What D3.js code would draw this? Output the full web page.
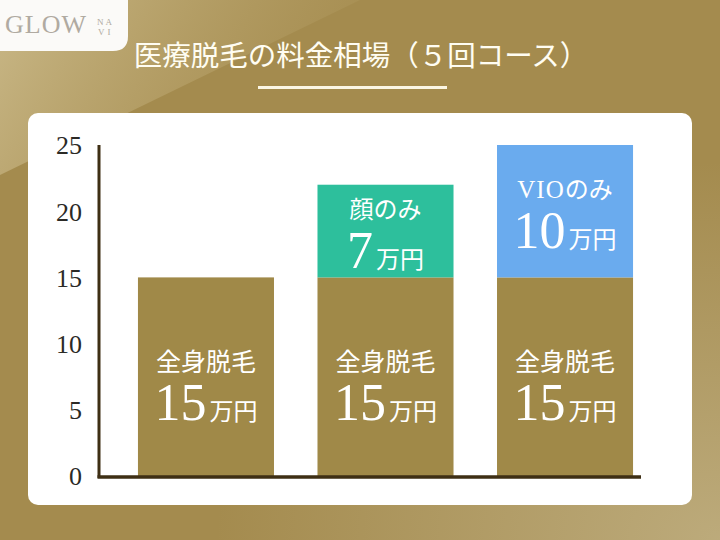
<!DOCTYPE html>
<html><head><meta charset="utf-8">
<script src="https://cdn.jsdelivr.net/npm/d3@7"></script>
<style>html,body{margin:0;padding:0;background:#a68e52;}svg{display:block;}</style>
</head><body>
<script>
const categories = ["全身脱毛", "全身脱毛＋顔", "全身脱毛＋VIO"];
const baseValues = [15, 15, 15];
const baseLabels = ["全身脱毛", "全身脱毛", "全身脱毛"];
const extraValues = [0, 7, 10];
const extraLabelsLatin = ["", "", "VIO"];
const extraLabelsJa = ["", "顔のみ", "のみ"];
const yTicks = [0, 5, 10, 15, 20, 25];
const title = "医療脱毛の料金相場（５回コース）";

const W = 720, H = 540;
const SERIF = "Liberation Serif, DejaVu Serif, serif";
const CJK = "Noto Sans CJK JP";
const svg = d3.select("body").append("svg").attr("width", W).attr("height", H);
const defs = svg.append("defs");

// background
svg.append("rect").attr("width",W).attr("height",H).attr("fill","#a48b4e");
const rg = defs.append("radialGradient").attr("id","br").attr("cx","1").attr("cy","1").attr("r","0.7");
rg.append("stop").attr("offset","0").attr("stop-color","#bfae80").attr("stop-opacity",0.9);
rg.append("stop").attr("offset","1").attr("stop-color","#bfae80").attr("stop-opacity",0);
svg.append("rect").attr("width",W).attr("height",H).attr("fill","url(#br)");
const lg = defs.append("linearGradient").attr("id","tl").attr("x1","0").attr("y1","0").attr("x2","1").attr("y2","0.3");
lg.append("stop").attr("offset","0").attr("stop-color","#e2d6ae").attr("stop-opacity",0.6);
lg.append("stop").attr("offset","1").attr("stop-color","#c2ad76").attr("stop-opacity",0.1);
svg.append("path").attr("d","M0,0 L360,0 L0,175 Z").attr("fill","url(#tl)");

// logo
svg.append("path").attr("d","M0,0 H128 V36 Q128,51 113,51 H0 Z").attr("fill","#fbfaf8");
svg.append("text").attr("x",5).attr("y",33).attr("font-family",SERIF)
  .attr("font-size",26).attr("fill","#b0aaa1").attr("letter-spacing",1).text("GLOW");
svg.append("text").attr("x",97).attr("y",25).attr("font-family",SERIF)
  .attr("font-size",9).attr("fill","#b0aaa1").attr("letter-spacing",2).text("NA");
svg.append("text").attr("x",98).attr("y",35).attr("font-family",SERIF)
  .attr("font-size",9).attr("fill","#b0aaa1").attr("letter-spacing",3).text("VI");

// title
svg.append("text").attr("x",361).attr("y",66).attr("text-anchor","middle")
  .attr("font-family",CJK).attr("font-size",28.5).attr("fill","#fffdf2")
  .text(title);
svg.append("rect").attr("x",258).attr("y",86).attr("width",189).attr("height",3).attr("fill","#fbf6e4");

// panel
svg.append("rect").attr("x",28).attr("y",113).attr("width",664).attr("height",392).attr("rx",10).attr("fill","#ffffff");

const x = d3.scaleBand().domain(categories).range([99, 672]).paddingInner(0.2423).paddingOuter(0.217);
const y = d3.scaleLinear().domain([0, 25]).range([476, 145]);

const gy = svg.append("g").attr("transform","translate(99,0)")
  .call(d3.axisLeft(y).tickValues(yTicks).tickSize(0).tickPadding(17));
gy.select(".domain").remove();
gy.selectAll("text").attr("font-family",SERIF).attr("font-size",26).attr("fill","#2b2a26").attr("dy","0.34em");

const colors = ["#a08948", "#2dbf9c", "#6aabee"];
categories.forEach((c,i)=>{
  const bx = x(c), bw = x.bandwidth(), cx = bx + bw/2;
  svg.append("rect").attr("x",bx).attr("y",y(baseValues[i])).attr("width",bw)
    .attr("height",y(0)-y(baseValues[i])).attr("fill",colors[0]);
  if (extraValues[i] > 0) {
    svg.append("rect").attr("x",bx).attr("y",y(baseValues[i]+extraValues[i])).attr("width",bw)
      .attr("height",y(baseValues[i])-y(baseValues[i]+extraValues[i])).attr("fill",colors[i]);
  }
  const bmid = (y(0)+y(baseValues[i]))/2;
  svg.append("text").attr("x",cx).attr("y",bmid-6).attr("text-anchor","middle")
    .attr("font-family",CJK).attr("font-size",25).attr("fill","#fff").text(baseLabels[i]);
  const t = svg.append("text").attr("x",cx).attr("y",bmid+43).attr("text-anchor","middle").attr("fill","#fff");
  t.append("tspan").attr("font-family",SERIF).attr("font-size",52).text(baseValues[i]);
  t.append("tspan").attr("font-family",CJK).attr("font-size",24).attr("dx",3).text("万円");
  if (extraValues[i] > 0) {
    const top = y(baseValues[i]+extraValues[i]), bot = y(baseValues[i]);
    const em = (top+bot)/2;
    const l = svg.append("text").attr("x",cx).attr("y",em-13).attr("text-anchor","middle").attr("fill","#fff");
    if (extraLabelsLatin[i]) l.append("tspan").attr("font-family",SERIF).attr("font-size",25).attr("letter-spacing",1).text(extraLabelsLatin[i]);
    l.append("tspan").attr("font-family",CJK).attr("font-size",24).text(extraLabelsJa[i]);
    const t2 = svg.append("text").attr("x",cx).attr("y",em+37).attr("text-anchor","middle").attr("fill","#fff");
    t2.append("tspan").attr("font-family",SERIF).attr("font-size",52).text(extraValues[i]);
    t2.append("tspan").attr("font-family",CJK).attr("font-size",24).attr("dx",3).text("万円");
  }
});

svg.append("line").attr("x1",99).attr("x2",99).attr("y1",145).attr("y2",478).attr("stroke","#3e2f14").attr("stroke-width",3);
svg.append("line").attr("x1",97.5).attr("x2",641).attr("y1",477).attr("y2",477).attr("stroke","#3e2f14").attr("stroke-width",3.5);
</script>
</body></html>
